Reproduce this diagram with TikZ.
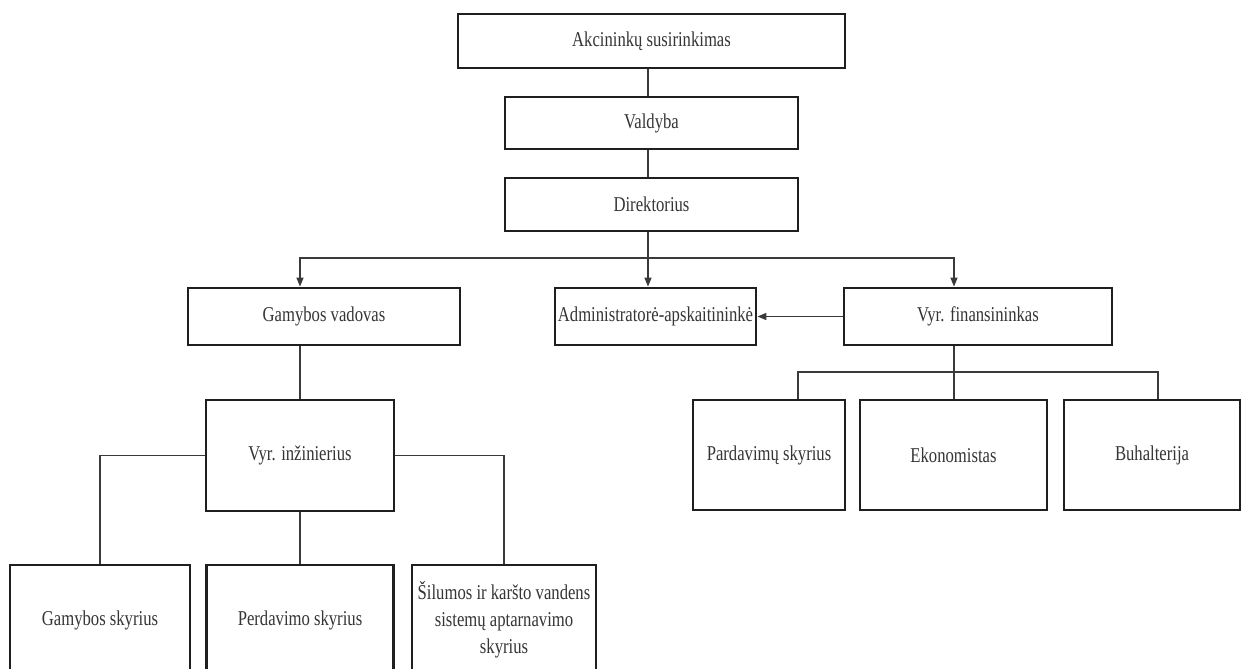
\documentclass[tikz,border=0pt]{standalone}
\usepackage{fontspec}
\setmainfont{Liberation Serif}[FakeStretch=0.79]
\usetikzlibrary{arrows.meta}
\definecolor{ink}{HTML}{1F1F1F}
\definecolor{wire}{HTML}{3A3A3A}
\tikzset{
  unit/.style={draw=ink,line width=1.6pt,fill=white,align=center,inner sep=1pt,
               font=\fontsize{12}{15.3}\selectfont,text=ink!90},
  link/.style={line width=0.8pt,color=wire},
  linkarrow/.style={link,-{Triangle[length=1.8mm,width=1.4mm]}},
}

\begin{document}
\begin{tikzpicture}[x=0.02cm,y=-0.02cm]
  \clip (0,0) rectangle (1244,669);
  \fill[white] (0,0) rectangle (1244,669);
  % top of the chart
  \node[unit,minimum width=7.74cm,minimum height=1.08cm] (akc) at (651.5,41) {Akcininkų susirinkimas};
  \node[unit,minimum width=5.86cm,minimum height=1.04cm] (valdyba) at (651.5,123) {Valdyba};
  \node[unit,minimum width=5.86cm,minimum height=1.06cm] (dir) at (651.5,204.5) {Direktorius};
  % second level
  \node[unit,minimum width=5.44cm,minimum height=1.14cm] (gvad) at (324,316.5) {Gamybos vadovas};
  \node[unit,minimum width=4.02cm,minimum height=1.14cm] (admin) at (655.5,316.5) {Administratorė-apskaitininkė};
  \node[unit,minimum width=5.36cm,minimum height=1.14cm] (vfin) at (978,316.5) {Vyr. finansininkas};
  % production branch
  \node[unit,minimum width=3.76cm,minimum height=2.22cm] (vinz) at (300,455.5) {Vyr. inžinierius};
  \node[unit,minimum width=3.6cm,minimum height=2.2cm] (gsk) at (100,620) {Gamybos skyrius};
  \node[unit,minimum width=3.74cm,minimum height=2.2cm] (perd) at (300,620) {Perdavimo skyrius};
  \node[unit,minimum width=3.68cm,minimum height=2.2cm] (sil) at (504,620) {Šilumos ir karšto vandens\\sistemų aptarnavimo\\skyrius};
  % finance branch
  \node[unit,minimum width=3.04cm,minimum height=2.2cm] (pard) at (769,455) {Pardavimų skyrius};
  \node[unit,minimum width=3.74cm,minimum height=2.2cm] (ekon) at (953.5,455) {Ekonomistas};
  \node[unit,minimum width=3.52cm,minimum height=2.2cm] (buh) at (1152,455) {Buhalterija};

  \coordinate (bus) at (648,258);
  \coordinate (gcol) at (300,258);
  \coordinate (fcol) at (954,258);
  \coordinate (fl) at (798,372);
  \coordinate (fr) at (1158,372);

  \draw[link] (akc.south -| bus) -- (valdyba.north -| bus);
  \draw[link] (valdyba.south -| bus) -- (dir.north -| bus);
  \draw[link] (dir.south -| bus) -- (bus);
  \draw[linkarrow] (bus) -- (gcol) -- (gvad.north -| gcol);
  \draw[linkarrow] (bus) -- (admin.north -| bus);
  \draw[linkarrow] (bus) -- (fcol) -- (vfin.north -| fcol);
  \draw[linkarrow] (vfin.west) -- (admin.east);
  \draw[link] (gvad.south -| gcol) -- (vinz.north);
  \draw[link] (vinz.west) -| (gsk.north);
  \draw[link] (vinz.south) -- (perd.north);
  \draw[link] (vinz.east) -| (sil.north);
  \draw[link] (vfin.south -| fcol) -- (ekon.north -| fcol);
  \draw[link] (pard.north -| fl) -- (fl) -- (fr) -- (buh.north -| fr);
\end{tikzpicture}
\end{document}
